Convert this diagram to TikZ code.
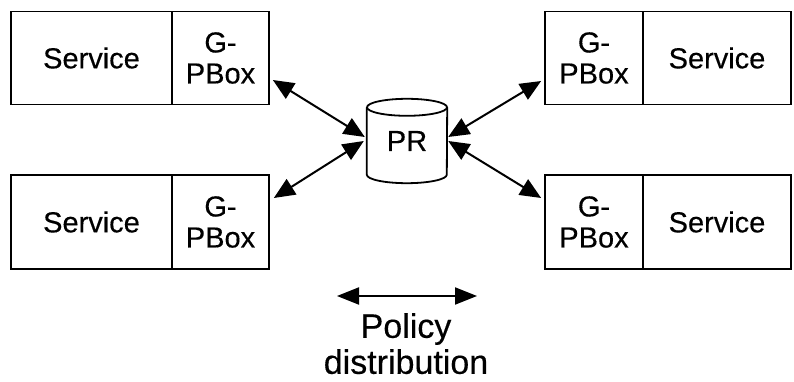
\documentclass[tikz,border=0pt]{standalone}
\usepackage{fontspec}
\setmainfont{Liberation Sans}[FakeBold=0.35]
\usetikzlibrary{arrows.meta,calc}

\tikzset{
  part/.style={draw, line width=1.7pt, inner sep=0pt, minimum height=93pt,
    align=center, font=\fontsize{29}{31}\selectfont},
  svc/.style={part, minimum width=161pt},
  svcr/.style={part, minimum width=148pt},
  gpb/.style={part, minimum width=97pt},
  link/.style={line width=2pt, {Triangle[length=21pt,width=18pt]}-{Triangle[length=21pt,width=18pt]}},
}

\begin{document}
\begin{tikzpicture}[x=1pt,y=1pt]
\useasboundingbox (0,0) rectangle (794,382);

% left-hand services with their G-PBoxes
\node[svc] (s1) at (91.5,324) {Service};
\node[gpb] (g1) at (220.5,324) {G-\\PBox};
\node[svc, minimum height=94pt] (s2) at (91.5,160) {Service};
\node[gpb, minimum height=94pt] (g2) at (220.5,160) {G-\\PBox};

% right-hand services with their G-PBoxes
\node[gpb, minimum width=98pt] (g3) at (594,324) {G-\\PBox};
\node[svcr] (s3) at (717,324) {Service};
\node[gpb, minimum width=98pt, minimum height=94pt] (g4) at (594,160) {G-\\PBox};
\node[svcr, minimum height=94pt] (s4) at (717,160) {Service};

% policy repository (cylinder)
\node[inner sep=0pt, minimum width=80pt, minimum height=84pt,
      font=\fontsize{29}{31}\selectfont] (pr) at (407,241) {PR};
\draw[line width=1.8pt]
  ([yshift=-8.5pt]pr.north west) -- ([yshift=8.5pt]pr.south west)
  arc[start angle=180, end angle=360, x radius=40pt, y radius=8.5pt]
  -- ([yshift=-8.5pt]pr.north east);
\draw[line width=1.8pt] ([yshift=-8.5pt]pr.north) ellipse[x radius=40pt, y radius=8.5pt];

% links between the G-PBoxes and the repository
\draw[link] ($(g1.east)+(3,-22)$) -- ($(pr.west)+(-2,4)$);
\draw[link] ($(g2.east)+(4,24)$) -- ($(pr.west)+(-3,0)$);
\draw[link] ($(g3.west)+(-3,-23)$) -- ($(pr.east)+(1,4)$);
\draw[link] ($(g4.west)+(-3,24)$) -- ($(pr.east)+(1,0)$);

% legend
\coordinate (pa) at (337,86);
\coordinate (pb) at (477,86);
\draw[line width=2pt, {Triangle[length=22pt,width=17pt]}-{Triangle[length=22pt,width=17pt]}] (pa) -- (pb);
\node[anchor=north, inner sep=0pt, align=center,
      font=\fontsize{34}{36}\selectfont] (pol) at (406,69) {Policy\\distribution};
\end{tikzpicture}
\end{document}
